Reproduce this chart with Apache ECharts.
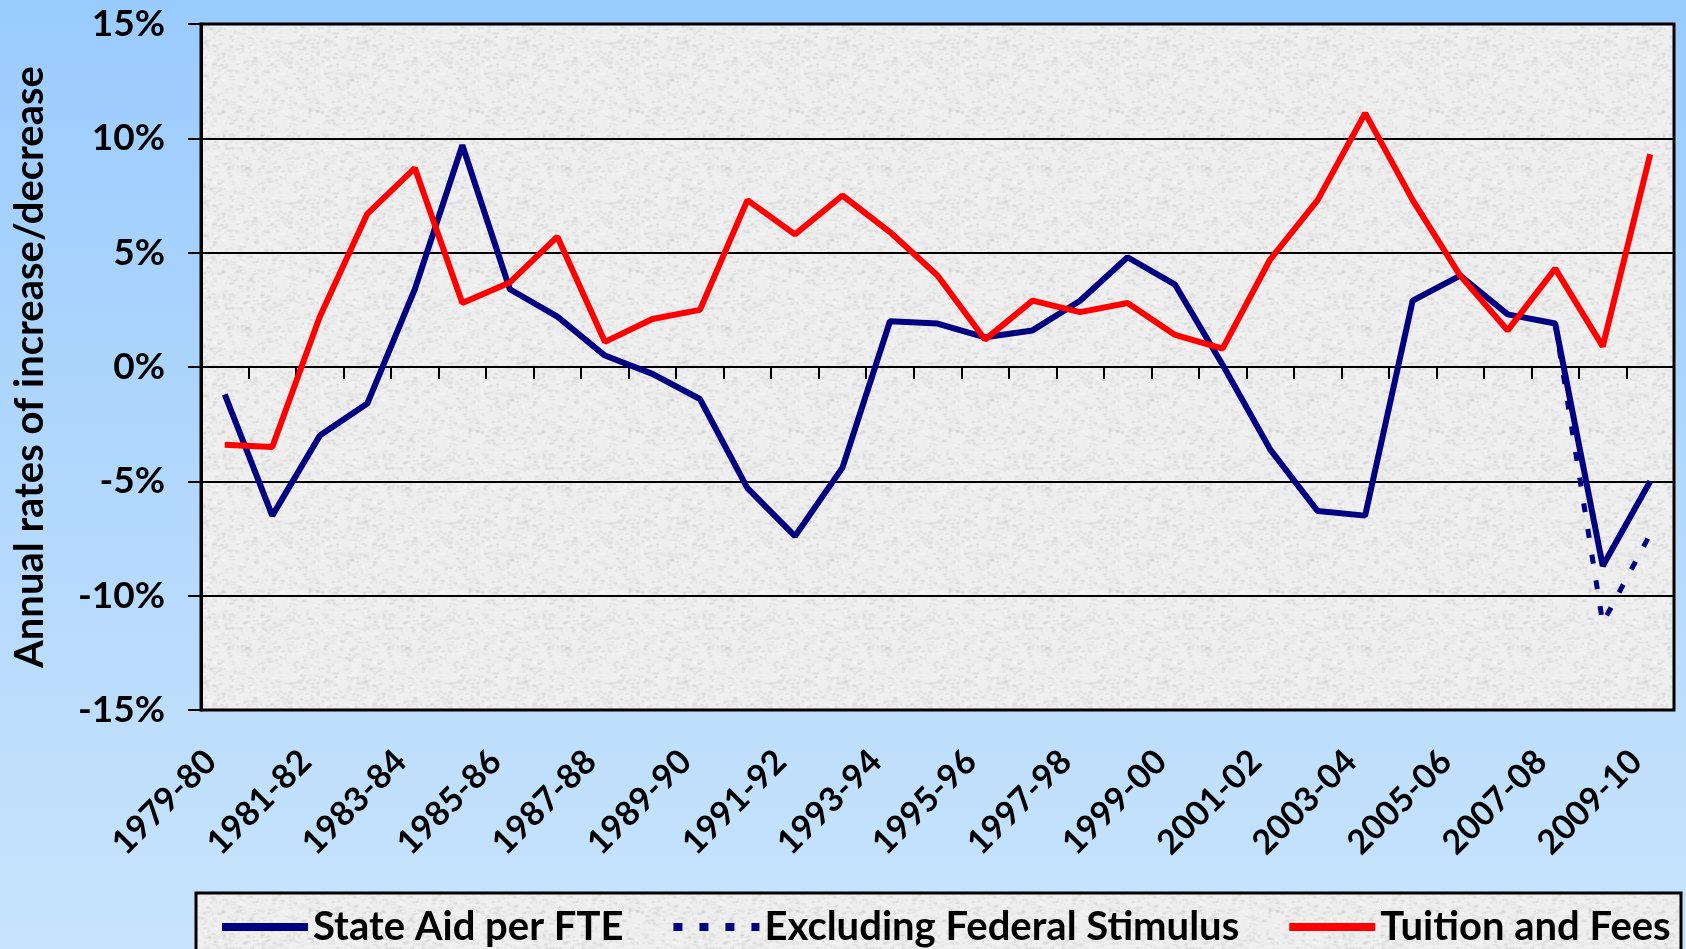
<!DOCTYPE html>
<html>
<head>
  <meta charset="utf-8">
  <title>State Aid per FTE vs Tuition and Fees</title>
  <script src="https://cdn.jsdelivr.net/npm/echarts@6/dist/echarts.min.js"></script>
  <style>
    html, body { margin: 0; padding: 0; }
    #graph { width: 1686px; height: 949px; }
  </style>
</head>
<body>
  <div id="graph"></div>

  <script>
    // categories
    var years = ['1979-80', '1980-81', '1981-82', '1982-83', '1983-84', '1984-85', '1985-86', '1986-87',
      '1987-88', '1988-89', '1989-90', '1990-91', '1991-92', '1992-93', '1993-94', '1994-95', '1995-96',
      '1996-97', '1997-98', '1998-99', '1999-00', '2000-01', '2001-02', '2002-03', '2003-04', '2004-05',
      '2005-06', '2006-07', '2007-08', '2008-09', '2009-10'];

    // annual % change
    var stateAid = [-1.2, -6.5, -3.0, -1.6, 3.4, 9.7, 3.4, 2.2, 0.5, -0.3, -1.4, -5.3, -7.4, -4.4, 2.0, 1.9,
      1.3, 1.6, 2.9, 4.8, 3.6, 0.1, -3.6, -6.3, -6.5, 2.9, 4.0, 2.3, 1.9, -8.7, -5.0];
    var tuition = [-3.4, -3.5, 2.2, 6.7, 8.7, 2.8, 3.7, 5.7, 1.1, 2.1, 2.5, 7.3, 5.8, 7.5, 5.9, 4.0,
      1.2, 2.9, 2.4, 2.8, 1.4, 0.8, 4.7, 7.3, 11.1, 7.3, 4.0, 1.6, 4.3, 0.9, 9.3];
    var exclYears = ['2007-08', '2008-09', '2009-10'];
    var exclStimulus = [1.9, -11.2, -7.3];

    var yTicks = { min: -15, max: 15, step: 5 };

    // dashed series only exists for the last three years
    var exclData = years.map(function (y) {
      var k = exclYears.indexOf(y);
      return k < 0 ? null : exclStimulus[k];
    });

    // grey speckled plot background (decoration only, fixed seed)
    function makeTexture() {
      var c = document.createElement('canvas');
      c.width = 160; c.height = 160;
      var ctx = c.getContext('2d');
      ctx.fillStyle = '#efefef';
      ctx.fillRect(0, 0, 160, 160);
      var s = 12345;
      function rnd() { s = (s * 16807) % 2147483647; return s / 2147483647; }
      for (var k = 0; k < 2600; k++) {
        var x = rnd() * 160, y = rnd() * 160, g = Math.round(195 + rnd() * 60);
        ctx.fillStyle = 'rgba(' + g + ',' + g + ',' + g + ',0.35)';
        ctx.fillRect(x, y, 2 + rnd() * 3, 1 + rnd() * 2);
      }
      return c;
    }
    var texture = makeTexture();

    var font = 'Lato';
    var myChart = echarts.init(document.getElementById('graph'));

    var option = {
      animation: false,
      backgroundColor: {
        type: 'linear', x: 0, y: 0, x2: 0, y2: 1,
        colorStops: [{ offset: 0, color: '#9acbfe' }, { offset: 1, color: '#c8e4fc' }]
      },
      grid: {
        left: 201, right: 12, top: 24, bottom: 239,
        show: true,
        borderColor: '#000',
        borderWidth: 3,
        backgroundColor: { image: texture, repeat: 'repeat' }
      },
      graphic: [{
        type: 'rect',
        z: 1,
        shape: { x: 196, y: 893, width: 1485, height: 80 },
        style: { fill: { image: texture, repeat: 'repeat' }, stroke: '#000', lineWidth: 3 }
      }],
      legend: {
        left: 218,
        top: 907,
        padding: 0,
        itemWidth: 86,
        itemHeight: 20,
        itemGap: 46,
        itemStyle: { opacity: 0 },
        lineStyle: { width: 8 },
        textStyle: { fontFamily: font, fontWeight: 'bold', fontSize: 40, color: '#000' },
        data: ['State Aid per FTE', 'Excluding Federal Stimulus', 'Tuition and Fees']
      },
      xAxis: [{
        type: 'category',
        data: years,
        position: 'bottom',
        boundaryGap: true,
        axisLine: { show: false, onZero: false },
        axisTick: { show: false },
        splitLine: { show: false },
        axisLabel: {
          interval: 1,
          rotate: 45,
          margin: 32,
          padding: [0, 20, 0, 0],
          color: '#000',
          fontFamily: font,
          fontWeight: 'bold',
          fontSize: 34
        }
      }, {
        type: 'category',
        data: years,
        position: 'bottom',
        boundaryGap: true,
        axisLine: { show: true, onZero: true, lineStyle: { color: '#000', width: 2 } },
        axisTick: { show: true, interval: 0, length: 12, lineStyle: { color: '#000', width: 2 } },
        axisLabel: { show: false },
        splitLine: { show: false }
      }],
      yAxis: {
        type: 'value',
        min: yTicks.min,
        max: yTicks.max,
        interval: yTicks.step,
        name: 'Annual rates of increase/decrease',
        nameLocation: 'middle',
        nameGap: 151,
        nameTextStyle: { fontFamily: font, fontWeight: 'bold', fontSize: 40, color: '#000' },
        axisLine: { show: true, lineStyle: { color: '#000', width: 3 } },
        axisTick: { show: true, length: 13, lineStyle: { color: '#000', width: 2 } },
        axisLabel: {
          formatter: '{value}%',
          margin: 36,
          color: '#000',
          fontFamily: font,
          fontWeight: 'bold',
          fontSize: 37
        },
        splitLine: { show: true, lineStyle: { color: '#000', width: 2 } }
      },
      series: [{
        name: 'State Aid per FTE',
        type: 'line',
        data: stateAid,
        symbol: 'none',
        lineStyle: { color: '#000080', width: 6 },
        itemStyle: { color: '#000080' }
      }, {
        name: 'Excluding Federal Stimulus',
        type: 'line',
        data: exclData,
        symbol: 'none',
        lineStyle: { color: '#000080', width: 5, type: [9, 17] },
        itemStyle: { color: '#000080' }
      }, {
        name: 'Tuition and Fees',
        type: 'line',
        data: tuition,
        symbol: 'none',
        lineStyle: { color: '#ff0000', width: 6 },
        itemStyle: { color: '#ff0000' }
      }]
    };

    myChart.setOption(option);
  </script>
</body>
</html>
